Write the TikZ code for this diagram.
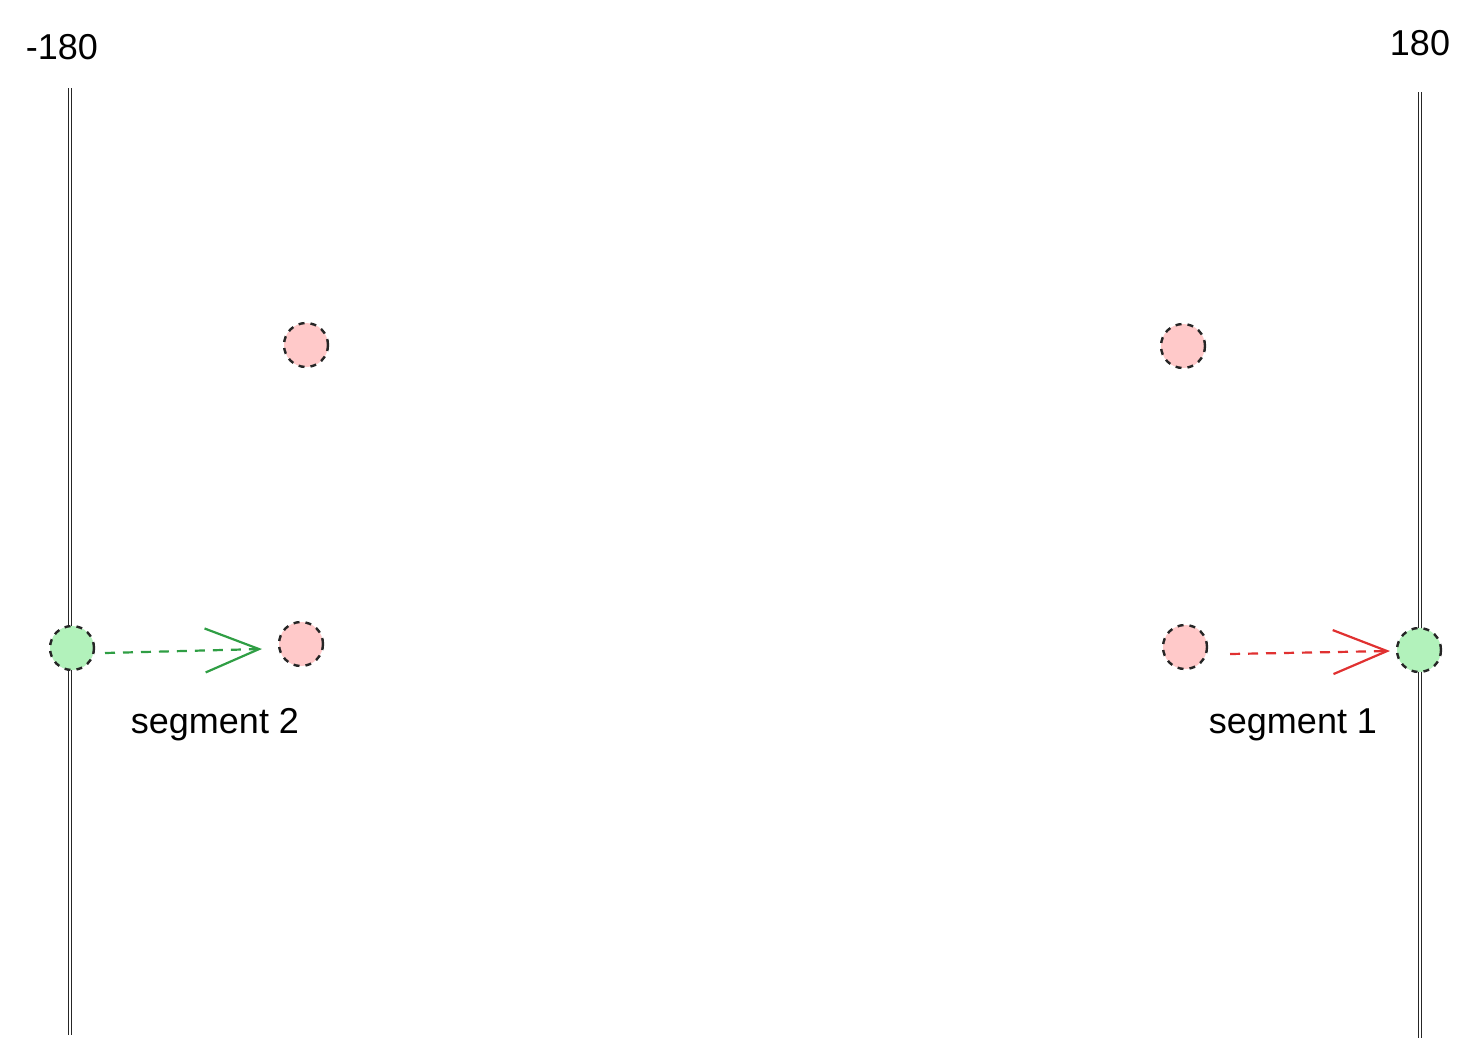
\documentclass[tikz,border=0pt]{standalone}
\usepackage{fontspec}
\setmainfont{Liberation Sans}
\usetikzlibrary{arrows.meta}
\definecolor{pinkf}{HTML}{FFC9C9}
\definecolor{greenf}{HTML}{B2F2BB}
\definecolor{garrow}{HTML}{2F9E44}
\definecolor{rarrow}{HTML}{E03131}
\begin{document}
\begin{tikzpicture}[x=0.5pt,y=-0.5pt,
  pt/.style={circle,draw=black!85,dashed,line width=1.2pt,minimum size=22pt,inner sep=0pt},
  redpt/.style={pt,fill=pinkf},
  greenpt/.style={pt,fill=greenf},
  axis/.style={double,double distance=1.2pt,line width=0.6pt,black!85},
  conn/.style={dash pattern=on 5pt off 4pt,line width=1.1pt,-{Straight Barb[length=27pt,width=22pt,line width=1.1pt]}},
  lbl/.style={font=\fontsize{18}{21}\selectfont}]
\useasboundingbox (0,0) rectangle (1478,1060);
\coordinate (lt) at (70,88); \coordinate (lb) at (70,1035);
\coordinate (rt) at (1420,92); \coordinate (rb) at (1420,1038);
\draw[axis] (lt) -- (lb);
\draw[axis] (rt) -- (rb);
\node[lbl] (lab1) at (62,47) {-180};
\node[lbl] (lab2) at (1420,43) {180};
\node[redpt] (p1) at (306,345) {};
\node[redpt] (p2) at (1183,346) {};
\node[redpt] (p3) at (301,644) {};
\node[redpt] (p4) at (1185,647) {};
\node[greenpt] (g1) at (72,648) {};
\node[greenpt] (g2) at (1419,650) {};
\coordinate (ga) at (105,653); \coordinate (gb) at (262,649);
\coordinate (ra) at (1230,654); \coordinate (rb2) at (1390,651);
\draw[conn,garrow] (ga) -- (gb);
\draw[conn,rarrow] (ra) -- (rb2);
\node[lbl] (s2) at (215,725) {segment 2};
\node[lbl] (s1) at (1293,725) {segment 1};
\end{tikzpicture}
\end{document}
